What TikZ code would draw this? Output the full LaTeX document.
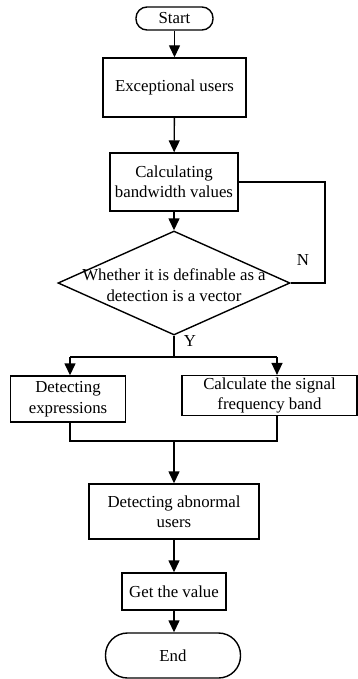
\documentclass[tikz,border=0pt]{standalone}
\usepackage{fontspec}
\setmainfont{Liberation Serif}
\usetikzlibrary{positioning}
\usetikzlibrary{shapes.geometric}
\usetikzlibrary{arrows.meta}

\begin{document}
\begin{tikzpicture}[x=1pt,y=-1pt,
        every node/.style={font=\fontsize{16.8}{20.5}\selectfont},
        box/.style={draw,line width=1.4pt,align=center,inner sep=2pt},
        term/.style={box,rounded corners=11pt},
        decision/.style={draw,line width=1.4pt,diamond,inner sep=0pt},
        line/.style={line width=1.4pt},
        arr/.style={line,-{Triangle[length=12pt,width=11pt]}}]
        \useasboundingbox (0,0) rectangle (358,679);
        \node[term,minimum width=77pt,minimum height=23pt] (start) at (174.5,18.5) {Start};
        \node[box,minimum width=143pt,minimum height=59pt] (exc) at (174.5,87.5) {Exceptional users};
        \node[box,minimum width=128pt,minimum height=58pt] (calc) at (174,182) {Calculating\\bandwidth values};
        \node[decision,minimum width=232pt,minimum height=104pt] (dec) at (174,283) {};
        \node[align=center] (dectext) at (174,285) {Whether it is definable as a\\detection is a vector};
        \node[box,minimum width=115pt,minimum height=46pt] (det) at (68,399) {Detecting\\expressions};
        \node[box,minimum width=175pt,minimum height=39pt] (sig) at (269.5,395.5) {Calculate the signal\\frequency band};
        \node[box,minimum width=170pt,minimum height=55pt] (abn) at (174,511.5) {Detecting abnormal\\users};
        \node[box,minimum width=104pt,minimum height=37pt] (get) at (174,591.5) {Get the value};
        \node[term,rounded corners=22pt,minimum width=135pt,minimum height=45pt] (end) at (173,655.5) {End};
        \node (yes) at (190,341) {Y};
        \node (no) at (303,260) {N};
        \coordinate (split) at (174,357);
        \coordinate (left) at (70,357);
        \coordinate (right) at (277,357);
        \coordinate (merge) at (174,441);
        \coordinate (loop) at (325,182);
        \draw[arr] (start) -- (start |- exc.north);
        \draw[arr] (exc) -- (calc);
        \draw[arr] (calc) -- (dec.north);
        \draw[line] (calc.east) -- (loop) |- (dec.east);
        \draw[line] (dec.south) -- (split);
        \draw[line] (left) -- (right);
        \draw[arr] (left) -- (left |- det.north);
        \draw[arr] (right) -- (right |- sig.north);
        \draw[line] (left |- det.south) |- (merge);
        \draw[line] (right |- sig.south) |- (merge);
        \draw[arr] (merge) -- (abn.north);
        \draw[arr] (abn) -- (get);
        \draw[arr] (get) -- (get |- end.north);
    \end{tikzpicture}
\end{document}
